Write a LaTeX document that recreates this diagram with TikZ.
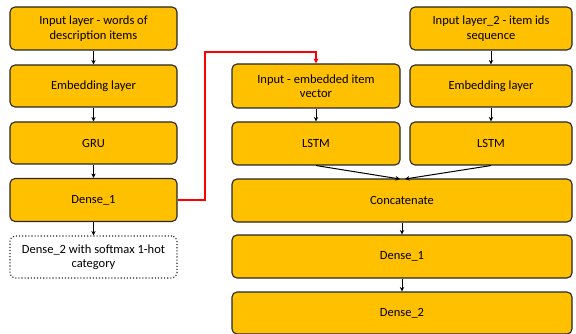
\documentclass[tikz,border=0pt]{standalone}
\usepackage{fontspec}
\setmainfont{Carlito}
\usetikzlibrary{arrows.meta}
\definecolor{gold}{HTML}{FFC000}
\definecolor{pured}{HTML}{FF0000}
\begin{document}
\begin{tikzpicture}[x=1pt,y=-1pt,
  layer/.style={draw=black!85, line width=1.1pt, fill=gold, rounded corners=5pt, inner sep=0pt, align=center, font=\fontsize{12.5}{14.5}\selectfont},
  outbox/.style={draw=black!85, line width=1.1pt, dotted, fill=white, rounded corners=5pt, inner sep=0pt, align=center, font=\fontsize{12.5}{14.5}\selectfont},
  conn/.style={draw=black, line width=1pt, -{Stealth[length=4.5pt,width=4.5pt]}},
  redconn/.style={draw=pured, line width=1.5pt, -{Stealth[length=5pt,width=5pt]}}]
\useasboundingbox (0,0) rectangle (576,334);
% left column
\node[layer, minimum width=167pt, minimum height=43pt] (l1) at (93.5,28.5) {Input layer - words of\\description items};
\node[layer, minimum width=167pt, minimum height=42pt] (l2) at (93.5,86) {Embedding layer};
\node[layer, minimum width=167pt, minimum height=42pt] (l3) at (93.5,143) {GRU};
\node[layer, minimum width=167pt, minimum height=43pt] (l4) at (93.5,200) {Dense\_1};
\node[outbox, minimum width=167pt, minimum height=42pt] (l5) at (93.5,257) {Dense\_2 with softmax 1-hot\\category};
% middle column
\node[layer, minimum width=168pt, minimum height=44pt] (m1) at (316,86) {Input - embedded item\\vector};
\node[layer, minimum width=168pt, minimum height=43pt] (m2) at (316,143.5) {LSTM};
% right column
\node[layer, minimum width=162pt, minimum height=43pt] (r1) at (491,28.5) {Input layer\_2 - item ids\\sequence};
\node[layer, minimum width=162pt, minimum height=42pt] (r2) at (491,86) {Embedding layer};
\node[layer, minimum width=162pt, minimum height=43pt] (r3) at (491,143.5) {LSTM};
% wide column
\node[layer, minimum width=340pt, minimum height=43pt] (c1) at (402,200.5) {Concatenate};
\node[layer, minimum width=340pt, minimum height=43pt] (c2) at (402,256.5) {Dense\_1};
\node[layer, minimum width=340pt, minimum height=42pt] (c3) at (402,313) {Dense\_2};
% connectors
\draw[conn] (l1) -- (l2);
\draw[conn] (l2) -- (l3);
\draw[conn] (l3) -- (l4);
\draw[conn] (l4) -- (l5);
\draw[conn] (m1) -- (m2);
\draw[conn] (r1) -- (r2);
\draw[conn] (r2) -- (r3);
\coordinate (cjL) at (400,179);
\coordinate (cjR) at (405,179);
\draw[conn] (m2.south) -- (cjL);
\draw[conn] (r3.south) -- (cjR);
\draw[conn] (c1) -- (c2);
\draw[conn] (c2) -- (c3);
\coordinate (ra) at (205,200);
\coordinate (rb) at (205,52);
\coordinate (rc) at (316,52);
\draw[redconn] (l4.east) -- (ra) -- (rb) -- (rc) -- (m1.north);
\end{tikzpicture}
\end{document}
